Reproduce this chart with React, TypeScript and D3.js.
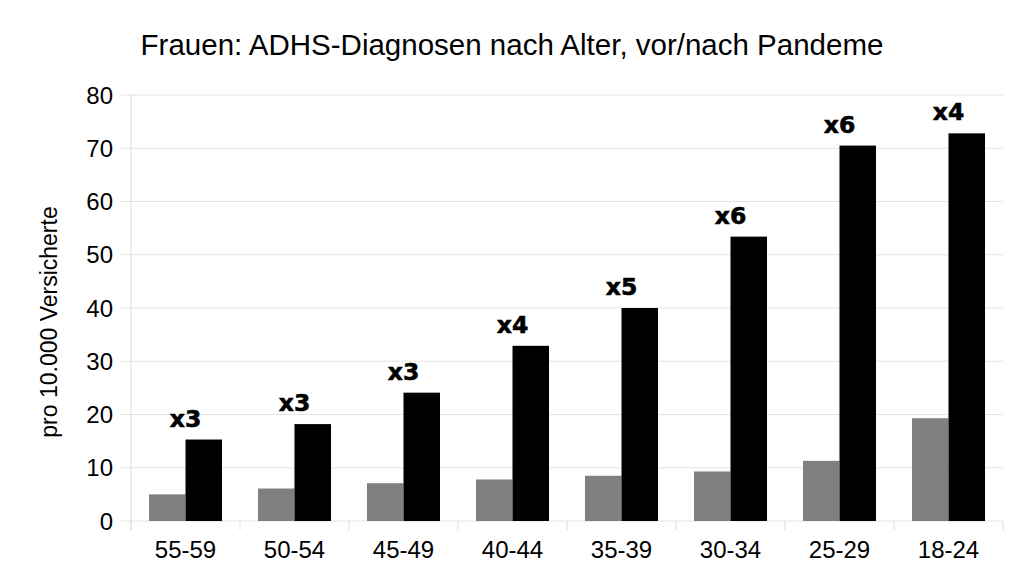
import React, { useEffect, useRef } from 'react';
import * as d3 from 'd3';

const ageGroups = ['55-59', '50-54', '45-49', '40-44', '35-39', '30-34', '25-29', '18-24'];
const beforePandemic = [5.0, 6.1, 7.1, 7.8, 8.5, 9.3, 11.3, 19.3];
const afterPandemic = [15.3, 18.2, 24.1, 32.9, 40.0, 53.4, 70.5, 72.8];
const factorLabels = ['x3', 'x3', 'x3', 'x4', 'x5', 'x6', 'x6', 'x4'];
const yTicks = [0, 10, 20, 30, 40, 50, 60, 70, 80];

export default function App() {
  const ref = useRef<SVGSVGElement | null>(null);

  useEffect(() => {
    if (!ref.current) return;
    const width = 1024;
    const height = 576;
    const margin = { top: 95, right: 21, bottom: 55, left: 131 };
    const innerWidth = width - margin.left - margin.right;
    const innerHeight = height - margin.top - margin.bottom;

    const svg = d3.select(ref.current);
    svg.selectAll('*').remove();
    svg.append('rect').attr('width', width).attr('height', height).attr('fill', '#fff');

    const g = svg.append('g').attr('transform', `translate(${margin.left},${margin.top})`);

    const x = d3.scaleBand().domain(ageGroups).range([0, innerWidth]).paddingInner(0.33).paddingOuter(0.165);
    const y = d3.scaleLinear().domain([0, 80]).range([innerHeight, 0]);
    const step = x.step();
    const catStart = (i: number) => i * step;

    // grid lines (extend a little left of axis)
    g.selectAll('.grid')
      .data(yTicks)
      .join('line')
      .attr('x1', -10)
      .attr('x2', innerWidth)
      .attr('y1', d => y(d))
      .attr('y2', d => y(d))
      .attr('stroke', '#e3e3e3')
      .attr('stroke-width', 1);

    // left axis line
    g.append('line')
      .attr('x1', 0).attr('x2', 0)
      .attr('y1', 0).attr('y2', innerHeight + 9)
      .attr('stroke', '#dcdcdc');

    // category boundary ticks
    g.selectAll('.xtick')
      .data(d3.range(ageGroups.length + 1))
      .join('line')
      .attr('x1', d => catStart(d))
      .attr('x2', d => catStart(d))
      .attr('y1', innerHeight)
      .attr('y2', innerHeight + 9)
      .attr('stroke', '#dcdcdc');

    // y tick labels
    g.selectAll('.ylab')
      .data(yTicks)
      .join('text')
      .attr('x', -18)
      .attr('y', d => y(d))
      .attr('dy', '0.36em')
      .attr('text-anchor', 'end')
      .attr('font-family', 'Liberation Sans, Arial, sans-serif')
      .attr('font-size', 24)
      .attr('fill', '#000')
      .text(d => String(d));

    // x labels
    g.selectAll('.xlab')
      .data(ageGroups)
      .join('text')
      .attr('x', d => x(d)! + x.bandwidth() / 2)
      .attr('y', innerHeight + 37)
      .attr('text-anchor', 'middle')
      .attr('font-family', 'Liberation Sans, Arial, sans-serif')
      .attr('font-size', 24)
      .attr('fill', '#000')
      .text(d => d);

    const half = x.bandwidth() / 2;

    g.selectAll('.before')
      .data(ageGroups)
      .join('rect')
      .attr('x', d => x(d)!)
      .attr('y', (d, i) => y(beforePandemic[i]))
      .attr('width', half)
      .attr('height', (d, i) => innerHeight - y(beforePandemic[i]))
      .attr('fill', '#808080');

    g.selectAll('.after')
      .data(ageGroups)
      .join('rect')
      .attr('x', d => x(d)! + half)
      .attr('y', (d, i) => y(afterPandemic[i]))
      .attr('width', half)
      .attr('height', (d, i) => innerHeight - y(afterPandemic[i]))
      .attr('fill', '#000');

    g.selectAll('.factor')
      .data(ageGroups)
      .join('text')
      .attr('x', d => x(d)! + x.bandwidth() / 2)
      .attr('y', (d, i) => y(afterPandemic[i]) - 13)
      .attr('text-anchor', 'middle')
      .attr('font-family', 'DejaVu Sans, sans-serif')
      .attr('font-weight', 'bold')
      .attr('font-size', 23.5)
      .attr('fill', '#000')
      .attr('stroke', '#000')
      .attr('stroke-width', 0.6)
      .text((d, i) => factorLabels[i]);

    // title
    svg.append('text')
      .attr('x', 512)
      .attr('y', 55)
      .attr('text-anchor', 'middle')
      .attr('font-family', 'Liberation Sans, Arial, sans-serif')
      .attr('font-size', 29.5)
      .attr('fill', '#000')
      .text('Frauen: ADHS-Diagnosen nach Alter, vor/nach Pandeme');

    // y axis title
    svg.append('text')
      .attr('transform', `translate(57,${322}) rotate(-90)`)
      .attr('text-anchor', 'middle')
      .attr('font-family', 'Liberation Sans, Arial, sans-serif')
      .attr('font-size', 23)
      .attr('fill', '#000')
      .text('pro 10.000 Versicherte');
  }, []);

  return (
    <svg
      ref={ref}
      width={1024}
      height={576}
      style={{ position: 'absolute', left: 0, top: 0, display: 'block' }}
    />
  );
}
